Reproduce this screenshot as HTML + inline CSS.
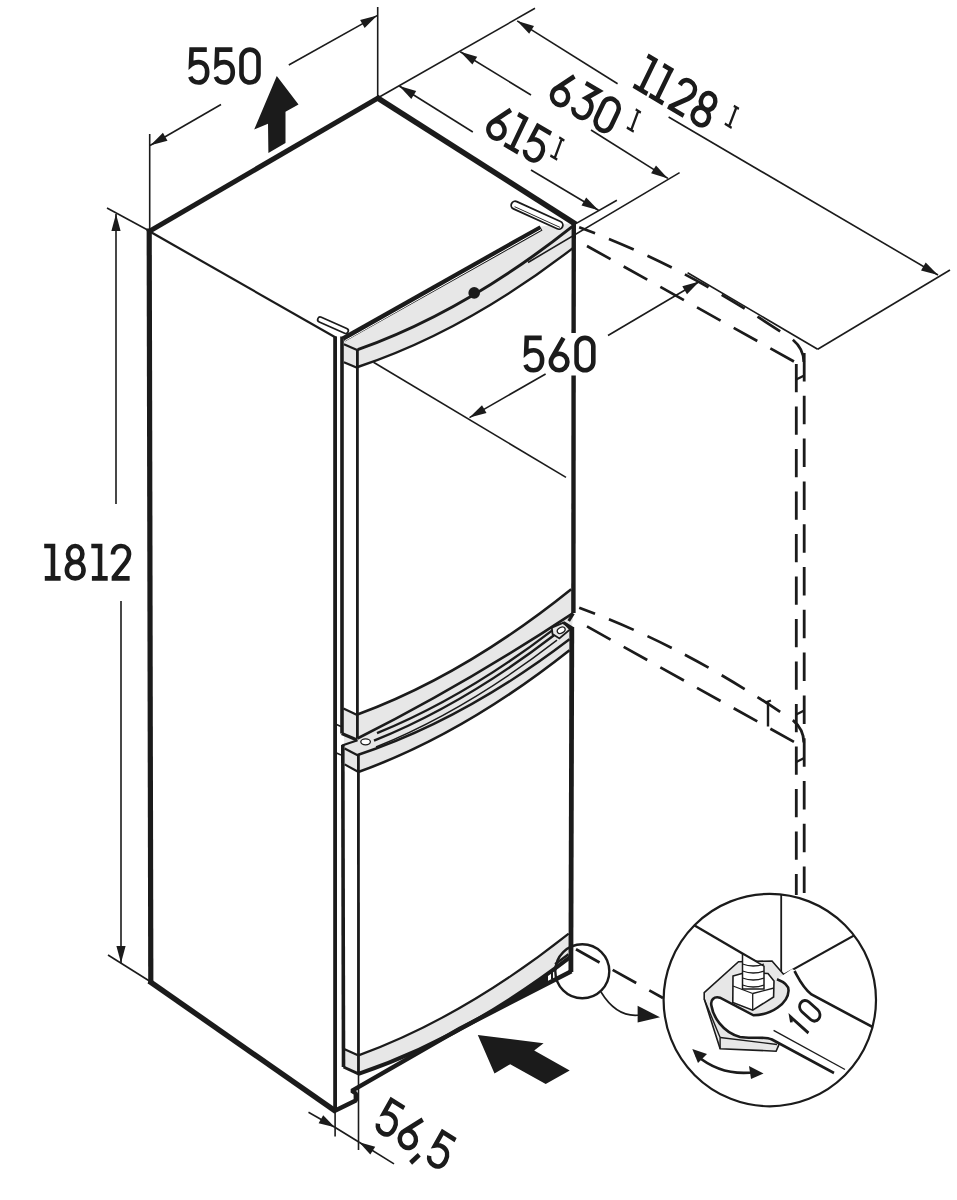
<!DOCTYPE html><html><head><meta charset="utf-8"><style>html,body{margin:0;padding:0;background:#fff;}svg{display:block;}</style></head><body>
<svg width="957" height="1200" viewBox="0 0 957 1200">
<rect width="957" height="1200" fill="#fff"/>
<path d="M343.9,344 L343.4,337 L541,226.5 L573,223 L573.5,247.6 L573.5,247.6 Q465.6,331.1 357.7,367.0 L343.9,362.3 Z" fill="#e7e7e7" stroke="none"/>
<path d="M343.4,708.4 L357.4,714.5 Q464.3,675.2 571.2,589.2 L573.4,613.5 L569.5,650.2 L569.5,650.2 Q463.6,734.2 357.6,772.3 L344.6,764.4 L344.6,748.5 L343.4,730 Z" fill="#e7e7e7" stroke="none"/>
<path d="M343.5,1048.7 L358.5,1055.4 Q463.6,1017.0 568.7,933.6 L570.8,956.7 L570.8,956.7 Q464.6,1038.2 358.5,1073.8 L343.5,1067 Z" fill="#e7e7e7" stroke="none"/>
<g stroke="#1b1b1b" fill="none" stroke-linecap="butt" stroke-linejoin="miter">
<line x1="149.2" y1="228.5" x2="150.8" y2="984" stroke-width="5.2" />
<line x1="147.5" y1="232.3" x2="380" y2="96.8" stroke-width="5.0" />
<line x1="376.3" y1="97.1" x2="576" y2="224.4" stroke-width="5.5" />
<line x1="573.8" y1="221" x2="573.6" y2="333" stroke-width="4.4" />
<line x1="573.6" y1="375.5" x2="573.4" y2="613" stroke-width="4.4" />
<line x1="571.8" y1="627" x2="570.9" y2="972" stroke-width="4.8" />
<line x1="149" y1="981" x2="336" y2="1111.5" stroke-width="5.4" />
<line x1="149.8" y1="231.5" x2="336.5" y2="338" stroke-width="2.2" />
<line x1="149.7" y1="134" x2="149.7" y2="231" stroke-width="1.6" />
<line x1="377.7" y1="7" x2="377.7" y2="98" stroke-width="1.6" />
<line x1="150" y1="145.5" x2="221" y2="104.5" stroke-width="1.6" />
<line x1="288.8" y1="65" x2="377.5" y2="15.4" stroke-width="1.6" />
<path d="M150.5,145.3 L162.9,132.8 L167.5,140.8 Z" fill="#1b1b1b" stroke="none"/>
<path d="M377.2,15.6 L364.6,27.9 L360.1,19.9 Z" fill="#1b1b1b" stroke="none"/>
<path d="M18.8,2.3 H3.6 L3,17.5 C5,15.8 7.8,14.8 10.6,14.8 C15.8,14.8 19.2,18.8 19.2,24.8 C19.2,31.2 15.6,35.2 10.6,35.2 C6.6,35.2 3.6,33.2 2.3,29.5" transform="translate(188.00,47.30)" stroke-width="4.6"/>
<path d="M18.8,2.3 H3.6 L3,17.5 C5,15.8 7.8,14.8 10.6,14.8 C15.8,14.8 19.2,18.8 19.2,24.8 C19.2,31.2 15.6,35.2 10.6,35.2 C6.6,35.2 3.6,33.2 2.3,29.5" transform="translate(213.60,47.30)" stroke-width="4.6"/>
<path d="M2.3,10.8 A8.5,8.5 0 0 1 19.3,10.8 V26.7 A8.5,8.5 0 0 1 2.3,26.7 Z" transform="translate(239.20,47.30)" stroke-width="4.6"/>
<path d="M276.8,76 L298.5,104.5 L285.5,111.7 L285.5,143 L268.4,153 L268,123.7 L254.2,129.6 Z" fill="#1b1b1b" stroke="none"/>
<line x1="107" y1="208" x2="149.5" y2="231" stroke-width="1.6" />
<line x1="108" y1="955" x2="151" y2="982" stroke-width="1.6" />
<line x1="116" y1="214" x2="116" y2="504" stroke-width="1.6" />
<line x1="121" y1="601" x2="121" y2="963" stroke-width="1.6" />
<path d="M116.0,214.0 L120.6,231.0 L111.4,231.0 Z" fill="#1b1b1b" stroke="none"/>
<path d="M121.0,963.0 L116.4,946.0 L125.6,946.0 Z" fill="#1b1b1b" stroke="none"/>
<path d="M0,2.3 H11.3 M8.9,0 V35 M0.6,35.2 H16.7" transform="translate(44.20,543.80) scale(0.982)" stroke-width="4.68"/>
<path d="M10.8,2.3 C6.8,2.3 3.5,5.6 3.5,10.4 C3.5,15.2 6.8,18.6 10.8,18.6 C14.8,18.6 18.1,15.2 18.1,10.4 C18.1,5.6 14.8,2.3 10.8,2.3 Z M10.8,18.6 C6,18.6 2.3,22 2.3,27 C2.3,32 6,35.2 10.8,35.2 C15.6,35.2 19.3,32 19.3,27 C19.3,22 15.6,18.6 10.8,18.6 Z" transform="translate(64.60,543.80) scale(0.982)" stroke-width="4.68"/>
<path d="M0,2.3 H11.3 M8.9,0 V35 M0.6,35.2 H16.7" transform="translate(91.30,543.80) scale(0.982)" stroke-width="4.68"/>
<path d="M2.6,10.8 C2.6,5.6 6,2.3 10.8,2.3 C15.6,2.3 19,5.6 19,10.6 C19,13.6 17.8,15.8 16,18.4 L3.6,34 V35.2 H19.6" transform="translate(110.40,543.80) scale(0.982)" stroke-width="4.68"/>
<line x1="343.5" y1="339" x2="541" y2="228" stroke-width="6.0" />
<line x1="345" y1="340.6" x2="541" y2="229.6" stroke-width="1.0" stroke="#fff"/>
<path d="M357.7,349.7 Q465.1,311.6 572.5,226.4" stroke-width="3.0" />
<path d="M357.7,367.0 Q465.6,331.1 573.5,247.6" stroke-width="2.4" />
<line x1="343.9" y1="344.3" x2="357.7" y2="350.2" stroke-width="2.2" />
<line x1="343.9" y1="362.3" x2="357.7" y2="368" stroke-width="2.2" />
<circle cx="474.2" cy="292.9" r="5.8" fill="#1b1b1b" stroke="none"/>
<rect x="-28" y="-4" width="56" height="8" rx="4" transform="translate(537,215.2) rotate(24.5)" fill="#fff" stroke-width="1.8"/>
<line x1="-24" y1="1.5" x2="26" y2="1.5" transform="translate(537,215.2) rotate(24.5)" stroke-width="1"/>
<rect x="-16.5" y="-2.6" width="33" height="5.2" rx="2.6" transform="translate(333,325.2) rotate(24)" fill="#fff" stroke-width="1.7"/>
<line x1="335.1" y1="336.5" x2="335.1" y2="1109" stroke-width="3.8" />
<line x1="342" y1="336.5" x2="342" y2="733.5" stroke-width="3.6" />
<line x1="342.8" y1="745" x2="343.5" y2="1067" stroke-width="3.6" />
<line x1="357.4" y1="350" x2="357.4" y2="738.5" stroke-width="2.8" />
<line x1="358.4" y1="754" x2="358.5" y2="1074" stroke-width="2.8" />
<line x1="335.1" y1="1108" x2="335.1" y2="1136.5" stroke-width="1.6" />
<line x1="358.5" y1="1074" x2="358.5" y2="1150" stroke-width="1.6" />
<path d="M357.4,714.5 Q464.3,675.2 571.2,589.2" stroke-width="2.6" />
<path d="M357.4,738.5 Q465.1,684.4 572.7,613.3" stroke-width="2.6" />
<path d="M377.0,733.2 Q464.5,697.5 552.0,630.6" stroke-width="2.4" />
<path d="M374.0,740.7 Q464.0,704.5 554.0,635.3" stroke-width="2.4" />
<path d="M376.0,747.0 Q466.5,710.3 557.0,640.1" stroke-width="1.4" />
<path d="M357.6,755.0 Q463.6,720.0 569.5,639.3" stroke-width="2.4" />
<path d="M357.6,772.3 Q463.6,734.2 569.5,650.2" stroke-width="2.6" />
<line x1="343.4" y1="708.4" x2="357.2" y2="715.1" stroke-width="2.2" />
<line x1="341.7" y1="733.5" x2="357" y2="740" stroke-width="3.2" />
<line x1="336.5" y1="724.5" x2="341" y2="726.5" stroke-width="1.6" />
<line x1="336.5" y1="753" x2="341" y2="755" stroke-width="1.6" />
<line x1="344.6" y1="748.5" x2="357.6" y2="755.2" stroke-width="2.2" />
<line x1="344.6" y1="764.4" x2="357.6" y2="771.5" stroke-width="2.2" />
<line x1="342" y1="745.5" x2="357.6" y2="740.2" stroke-width="2.2" />
<line x1="573.4" y1="613.5" x2="568.7" y2="621" stroke-width="3.0" />
<ellipse cx="365.6" cy="741.8" rx="4.8" ry="3" stroke-width="1.3" fill="#fff"/>
<path d="M551.8,627.7 L563.5,622.6 L570,629.5 L559.4,638.5 L552.5,634 Z" fill="#e7e7e7" stroke-width="1.8"/>
<line x1="563.5" y1="622.6" x2="573.2" y2="628.5" stroke-width="3.0" />
<ellipse cx="561.2" cy="630.2" rx="4.2" ry="2.8" stroke-width="1.3" fill="#fff" transform="rotate(-30 561.2 630.2)"/>
<path d="M358.5,1055.4 Q463.6,1017.0 568.7,933.6" stroke-width="2.2" />
<path d="M358.5,1073.8 Q464.6,1038.2 570.8,956.7" stroke-width="4.0" />
<line x1="343.5" y1="1048.7" x2="358.5" y2="1055.4" stroke-width="2.2" />
<line x1="343.5" y1="1067" x2="358.5" y2="1073.8" stroke-width="3.0" />
<path d="M334.3,1111 L355.8,1100.5 L355.8,1093.5 L351.8,1090.8 L460,1028.6 L571.4,971.2" stroke-width="4.4" stroke-linejoin="bevel"/>
<path d="M410.0,1053.8 L416.0,1051.2 L422.0,1048.4 L428.0,1045.6 L434.0,1042.7 L440.0,1039.7 L446.0,1036.7 L452.0,1033.6 L458.0,1030.4 L464.0,1027.1 L470.0,1023.8 L476.0,1020.4 L482.0,1016.9 L488.0,1013.3 L494.0,1009.7 L500.0,1006.0 L506.0,1002.2 L512.0,998.3 L518.0,994.4 L524.0,990.4 L530.0,986.3 L536.0,982.2 L542.0,978.0 L548.0,973.7 L548.0,983.3 L542.0,986.4 L536.0,989.5 L530.0,992.5 L524.0,995.6 L518.0,998.7 L512.0,1001.8 L506.0,1004.9 L500.0,1008.0 L494.0,1011.1 L488.0,1014.2 L482.0,1017.3 L476.0,1020.4 L470.0,1023.4 L464.0,1026.5 L458.0,1029.8 L452.0,1033.4 L446.0,1037.0 L440.0,1040.6 L434.0,1044.3 L428.0,1047.9 L422.0,1051.5 L416.0,1055.1 L410.0,1058.7 Z" fill="#1b1b1b" stroke="none"/>
<line x1="568.5" y1="954.2" x2="555.1" y2="964.3" stroke-width="2.4" />
<line x1="552" y1="969" x2="552" y2="979" stroke-width="2.0" />
<line x1="378.5" y1="97.5" x2="535" y2="8.3" stroke-width="1.6" />
<line x1="575.9" y1="223.6" x2="616.9" y2="200.2" stroke-width="1.6" />
<line x1="528" y1="262.5" x2="679.6" y2="172.6" stroke-width="1.6" />
<line x1="817.7" y1="349.2" x2="950" y2="270" stroke-width="1.6" />
<line x1="687.6" y1="272.8" x2="817.7" y2="349.2" stroke-width="1.6" />
<line x1="399.3" y1="86" x2="472.8" y2="132" stroke-width="1.6" />
<line x1="531" y1="170" x2="598.5" y2="210.2" stroke-width="1.6" />
<path d="M399.3,86.0 L416.2,91.1 L411.3,98.9 Z" fill="#1b1b1b" stroke="none"/>
<path d="M598.5,210.2 L581.5,205.5 L586.2,197.5 Z" fill="#1b1b1b" stroke="none"/>
<line x1="460.3" y1="51.8" x2="531" y2="95" stroke-width="1.6" />
<line x1="591" y1="130" x2="667.9" y2="178.4" stroke-width="1.6" />
<path d="M460.3,51.8 L477.2,56.7 L472.4,64.6 Z" fill="#1b1b1b" stroke="none"/>
<path d="M667.9,178.4 L651.1,173.2 L656.0,165.5 Z" fill="#1b1b1b" stroke="none"/>
<line x1="517.2" y1="20.9" x2="617.6" y2="83.8" stroke-width="1.6" />
<line x1="668.6" y1="117" x2="938" y2="275" stroke-width="1.6" />
<path d="M517.2,20.9 L534.0,26.0 L529.2,33.8 Z" fill="#1b1b1b" stroke="none"/>
<path d="M938.0,275.0 L921.0,270.4 L925.7,262.4 Z" fill="#1b1b1b" stroke="none"/>
<g transform="translate(518.5,133.5) rotate(30.5) skewX(5)"><path d="M15.1,2.3 L3.43,22.6 M2.3,26.8 a8.4,8.4 0 1 0 16.8,0 a8.4,8.4 0 1 0 -16.8,0" transform="translate(-32.25,-18.75)" stroke-width="4.6"/><path d="M0,2.3 H11.3 M8.9,0 V35 M0.6,35.2 H16.7" transform="translate(-8.75,-18.75)" stroke-width="4.6"/><path d="M18.8,2.3 H3.6 L3,17.5 C5,15.8 7.8,14.8 10.6,14.8 C15.8,14.8 19.2,18.8 19.2,24.8 C19.2,31.2 15.6,35.2 10.6,35.2 C6.6,35.2 3.6,33.2 2.3,29.5" transform="translate(10.75,-18.75)" stroke-width="4.6"/></g>
<g transform="translate(556.5,147.5) rotate(30.5) skewX(10)"><path d="M-1,-10 H5 M2,-10 V10 M-3,10 H5" stroke-width="2.4"/></g>
<g transform="translate(585.4,101.9) rotate(30.5) skewX(5)"><path d="M15.1,2.3 L3.43,22.6 M2.3,26.8 a8.4,8.4 0 1 0 16.8,0 a8.4,8.4 0 1 0 -16.8,0" transform="translate(-36.10,-18.75)" stroke-width="4.6"/><path d="M3,2.3 H18.4 L10,14.9 C15.8,14.6 19.3,18.6 19.3,24.8 C19.3,31.2 15.6,35.2 10.6,35.2 C6.6,35.2 3.4,33 2.3,29.5" transform="translate(-10.80,-18.75)" stroke-width="4.6"/><path d="M2.3,10.8 A8.5,8.5 0 0 1 19.3,10.8 V26.7 A8.5,8.5 0 0 1 2.3,26.7 Z" transform="translate(14.50,-18.75)" stroke-width="4.6"/></g>
<g transform="translate(633.0,119.5) rotate(30.5) skewX(10)"><path d="M-1,-10 H5 M2,-10 V10 M-3,10 H5" stroke-width="2.4"/></g>
<g transform="translate(677.0,92.5) rotate(31) skewX(5)"><path d="M0,2.3 H11.3 M8.9,0 V35 M0.6,35.2 H16.7" transform="translate(-42.80,-18.75)" stroke-width="4.6"/><path d="M0,2.3 H11.3 M8.9,0 V35 M0.6,35.2 H16.7" transform="translate(-24.30,-18.75)" stroke-width="4.6"/><path d="M2.6,10.8 C2.6,5.6 6,2.3 10.8,2.3 C15.6,2.3 19,5.6 19,10.6 C19,13.6 17.8,15.8 16,18.4 L3.6,34 V35.2 H19.6" transform="translate(-3.30,-18.75)" stroke-width="4.6"/><path d="M10.8,2.3 C6.8,2.3 3.5,5.6 3.5,10.4 C3.5,15.2 6.8,18.6 10.8,18.6 C14.8,18.6 18.1,15.2 18.1,10.4 C18.1,5.6 14.8,2.3 10.8,2.3 Z M10.8,18.6 C6,18.6 2.3,22 2.3,27 C2.3,32 6,35.2 10.8,35.2 C15.6,35.2 19.3,32 19.3,27 C19.3,22 15.6,18.6 10.8,18.6 Z" transform="translate(21.20,-18.75)" stroke-width="4.6"/></g>
<g transform="translate(731.0,115.8) rotate(31) skewX(10)"><path d="M-1,-10 H5 M2,-10 V10 M-3,10 H5" stroke-width="2.4"/></g>
<line x1="469.5" y1="417.6" x2="545.6" y2="374" stroke-width="1.6" />
<line x1="608" y1="335.5" x2="699" y2="281.7" stroke-width="1.6" />
<path d="M469.5,417.6 L482.0,405.2 L486.5,413.1 Z" fill="#1b1b1b" stroke="none"/>
<path d="M699.3,281.6 L687.0,294.2 L682.3,286.3 Z" fill="#1b1b1b" stroke="none"/>
<line x1="373.5" y1="362.3" x2="566" y2="477.4" stroke-width="1.6" />
<path d="M18.8,2.3 H3.6 L3,17.5 C5,15.8 7.8,14.8 10.6,14.8 C15.8,14.8 19.2,18.8 19.2,24.8 C19.2,31.2 15.6,35.2 10.6,35.2 C6.6,35.2 3.6,33.2 2.3,29.5" transform="translate(523.20,335.60) scale(0.985)" stroke-width="4.67"/>
<path d="M15.1,2.3 L3.43,22.6 M2.3,26.8 a8.4,8.4 0 1 0 16.8,0 a8.4,8.4 0 1 0 -16.8,0" transform="translate(548.60,335.60) scale(0.985)" stroke-width="4.67"/>
<path d="M2.3,10.8 A8.5,8.5 0 0 1 19.3,10.8 V26.7 A8.5,8.5 0 0 1 2.3,26.7 Z" transform="translate(574.30,335.60) scale(0.985)" stroke-width="4.67"/>
<line x1="308.5" y1="1112.2" x2="334.8" y2="1127.2" stroke-width="1.6" />
<line x1="334.8" y1="1127.2" x2="359.2" y2="1142.2" stroke-width="1.6" />
<line x1="359.2" y1="1142.2" x2="394" y2="1163.9" stroke-width="1.6" />
<path d="M334.8,1127.2 L318.6,1123.3 L323.2,1115.3 Z" fill="#1b1b1b" stroke="none"/>
<path d="M359.2,1142.2 L375.2,1146.8 L370.3,1154.6 Z" fill="#1b1b1b" stroke="none"/>
<g transform="translate(415.6,1134.5) rotate(32) skewX(5)"><path d="M18.8,2.3 H3.6 L3,17.5 C5,15.8 7.8,14.8 10.6,14.8 C15.8,14.8 19.2,18.8 19.2,24.8 C19.2,31.2 15.6,35.2 10.6,35.2 C6.6,35.2 3.6,33.2 2.3,29.5" transform="translate(-41.00,-18.75)" stroke-width="4.6"/><path d="M15.1,2.3 L3.43,22.6 M2.3,26.8 a8.4,8.4 0 1 0 16.8,0 a8.4,8.4 0 1 0 -16.8,0" transform="translate(-15.50,-18.75)" stroke-width="4.6"/><path d="M6.5,34 L2.5,45.5" transform="translate(6.00,-18.75)" stroke-width="4.6"/><path d="M18.8,2.3 H3.6 L3,17.5 C5,15.8 7.8,14.8 10.6,14.8 C15.8,14.8 19.2,18.8 19.2,24.8 C19.2,31.2 15.6,35.2 10.6,35.2 C6.6,35.2 3.6,33.2 2.3,29.5" transform="translate(19.50,-18.75)" stroke-width="4.6"/></g>
<path d="M477.8,1035 L543.6,1043.3 L534.2,1050.6 L569.7,1070.5 L545.7,1084 L510.2,1064.2 L494.5,1073.6 Z" fill="#1b1b1b" stroke="none"/>
<path d="M579.2,227.3 C640,250 700,278 783,333.3 Q803.8,344 803.8,362" stroke-width="2.7" stroke-dasharray="27 15" stroke-dashoffset="10"/>
<path d="M587,246 L796.8,363.1" stroke-width="2.7" stroke-dasharray="27 15"/>
<path d="M579.2,607.7 C640,630.4 700,658.4 783,713.7 Q803.8,724.4 803.8,742.4" stroke-width="2.7" stroke-dasharray="27 15" stroke-dashoffset="10"/>
<path d="M587,626.4 L796.8,743.5" stroke-width="2.7" stroke-dasharray="27 15"/>
<path d="M796.3,364 V895" stroke-width="2.8" stroke-dasharray="28.3 14.2"/>
<path d="M804.2,353 V893" stroke-width="2.8" stroke-dasharray="28.5 14.3"/>
<path d="M576,949.3 L663,998" stroke-width="2.7" stroke-dasharray="27 15"/>
<line x1="796.3" y1="379.5" x2="804.2" y2="375.5" stroke-width="2.2" />
<line x1="796.3" y1="714.5" x2="804.2" y2="710.5" stroke-width="2.2" />
<line x1="796.3" y1="762" x2="804.2" y2="758" stroke-width="2.2" />
<line x1="768" y1="701.5" x2="768" y2="726.5" stroke-width="2.4" />
<line x1="765" y1="702.5" x2="771" y2="700.5" stroke-width="2.0" />
<circle cx="582.3" cy="971.2" r="27" stroke-width="2.4"/>
<path d="M601,992 C612,1010 625,1017 640,1015" stroke-width="1.6" />
<path d="M660,1017.2 L637.6,1005.7 L637.6,1022.4 Z" fill="#1b1b1b" stroke="none"/>
<defs><clipPath id="cc"><circle cx="769.8" cy="1000.1" r="106"/></clipPath></defs>
<g clip-path="url(#cc)">
<line x1="675" y1="914" x2="781.2" y2="976.1" stroke-width="2.4" />
<line x1="781.2" y1="890" x2="781.2" y2="976.1" stroke-width="1.8" />
<line x1="781.2" y1="976.1" x2="880" y2="921" stroke-width="2.2" />
<path d="M704.2,992.7 L738.5,961.7 L772,961 L792,984 L778.6,1045.4 L776.1,1051.2 L720.1,1048.7 L704.2,999 Z" fill="#e7e7e7" stroke-width="1.6"/>
<line x1="704.2" y1="999" x2="720.1" y2="1037.5" stroke-width="1.4" />
<line x1="720.1" y1="1037.5" x2="720.1" y2="1048.7" stroke-width="1.4" />
<line x1="720.1" y1="1037.5" x2="777" y2="1044.5" stroke-width="1.4" />
<path d="M733,976 L745.5,972.5 L768,973.5 L774,981 L773.6,997 L752.7,1010.2 L732.8,1002.5 Z" fill="#fff" stroke-width="1.6"/>
<line x1="733" y1="986" x2="752.7" y2="993.5" stroke-width="1.3" />
<line x1="752.7" y1="993.5" x2="774" y2="988" stroke-width="1.3" />
<line x1="752.7" y1="993.5" x2="752.7" y2="1010.2" stroke-width="1.3" />
<path d="M742.5,953.8 L764,966.2 V989 H742.5 Z" fill="#fff" stroke-width="1.5"/>
<path d="M742.5,964 Q753,968 764,964" stroke-width="1.3" />
<path d="M742.5,971 Q753,975 764,971" stroke-width="1.3" />
<path d="M742.5,978 Q753,982 764,978" stroke-width="1.3" />
<path d="M742.5,985 Q753,989 764,985" stroke-width="1.3" />
<path d="M777,979.3 C784,982 789,986 788.5,991 C788,1003 772,1015 753.5,1015.3 L720,997.7 C714,996 710,1000 711.5,1006 C713,1016 722,1032 740,1037 C752,1039 764,1036 772,1039.5 L834,1074 L880,1090 L880,1020 L812,994 C806,990 802,984 799,977 C797,972 795,970 792,969 Z" fill="#fff" stroke="none"/>
<path d="M777,979.3 C784,982 789,986 788.5,991 C788,1003 772,1015 753.5,1015.3 L720,997.7 C714,996 710,1000 711.5,1006 C713,1016 722,1032 740,1037 C752,1039 764,1036 772,1039.5 L834,1073" stroke-width="2.6" />
<path d="M794.5,971 C798,977 802,987 811.5,994.5 L880,1031" stroke-width="2.6" />
<line x1="773.6" y1="1030.3" x2="845" y2="1069.5" stroke-width="1.4" />
<path d="M696,1055 Q722,1077 756,1072" stroke-width="2.6" />
<path d="M692.3,1049 L707,1054 L698,1063 Z" fill="#1b1b1b" stroke="none"/>
<path d="M763.5,1073.5 L749,1066 L751,1079 Z" fill="#1b1b1b" stroke="none"/>
</g>
<circle cx="769.8" cy="1000.1" r="106.2" stroke-width="2.2"/>
<g transform="translate(805,1016.5) rotate(-54) skewX(-6)"><path d="M-13.5,-7.5 L-10,-11.5 V12.5" stroke-width="2.9"/><path d="M1.5,-5.5 A6,6 0 0 1 13.5,-5.5 V6.5 A6,6 0 0 1 1.5,6.5 Z" stroke-width="2.9"/></g>
</g></svg></body></html>
